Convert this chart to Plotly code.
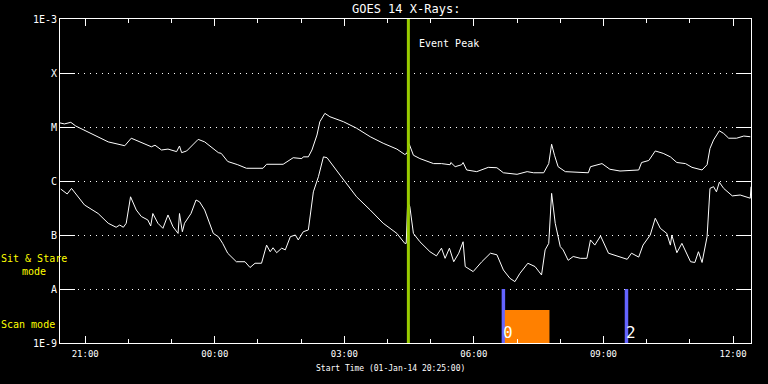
import plotly.graph_objects as go

# ---------------- data ----------------
long_times = ["20:25","20:31","20:40","20:47","21:32","21:55","22:04","22:32","22:37","22:46",
              "22:55","23:07","23:11","23:14","23:21","23:37","23:46","00:05","00:09","00:18",
              "00:32","00:44","01:07","01:12","01:35","01:49","02:01","02:03","02:10","02:15",
              "02:22","02:26","02:33","02:40","02:59","03:17","03:36","03:54","04:13","04:24",
              "04:27","04:29","04:30","04:36","04:45","05:04","05:15","05:27","05:28","05:34",
              "05:43","05:45","05:50","06:04","06:20","06:32","06:41","07:00","07:14","07:23",
              "07:37","07:44","07:48","07:52","07:57","08:07","08:28","08:39","08:42","08:58",
              "09:09","09:23","09:49","09:53","10:03","10:12","10:23","10:33","10:42","10:54",
              "11:03","11:17","11:24","11:28","11:33","11:41","11:47","11:54","12:05","12:15",
              "12:24"]
long_flux = [1.19e-5,1.14e-5,1.22e-5,1.04e-5,5.3e-6,4.5e-6,6.2e-6,4.3e-6,4.6e-6,3.75e-6,
             3.9e-6,3.5e-6,4.45e-6,3.35e-6,3.6e-6,5.9e-6,5.3e-6,3.35e-6,3.25e-6,2.3e-6,
             2.0e-6,1.72e-6,1.72e-6,2.04e-6,2.04e-6,2.7e-6,2.6e-6,2.8e-6,2.8e-6,3.75e-6,
             7.1e-6,1.25e-5,1.79e-5,1.55e-5,1.25e-5,9.5e-6,6.6e-6,5.0e-6,3.9e-6,3.1e-6,
             3.26e-6,4.9e-6,4.9e-6,3.0e-6,2.6e-6,2.1e-6,2.1e-6,2.0e-6,2.2e-6,1.84e-6,
             2.0e-6,2.2e-6,1.6e-6,1.49e-6,1.79e-6,1.76e-6,1.42e-6,1.33e-6,1.49e-6,1.42e-6,
             1.42e-6,2.1e-6,4.8e-6,3.0e-6,1.84e-6,1.49e-6,1.42e-6,1.42e-6,1.84e-6,2.1e-6,
             1.65e-6,1.53e-6,1.6e-6,2.2e-6,2.4e-6,3.6e-6,3.25e-6,2.8e-6,2.2e-6,2.1e-6,
             1.79e-6,1.6e-6,2.0e-6,4.0e-6,5.75e-6,8.5e-6,7.6e-6,6.2e-6,6.2e-6,6.8e-6,
             6.6e-6]

short_times = ["20:26","20:35","20:41","20:48","20:59","21:18","21:32","21:43","21:48","21:53",
               "21:57","22:03","22:11","22:18","22:27","22:31","22:34","22:41","22:48","22:55",
               "23:02","23:09","23:11","23:15","23:18","23:27","23:34","23:39","23:46","23:58",
               "00:05","00:11","00:18","00:30","00:42","00:49","00:56","01:05","01:12","01:17",
               "01:21","01:26","01:33","01:38","01:45","01:52","01:56","02:03","02:10","02:17",
               "02:24","02:31","02:36","02:54","03:17","03:36","03:54","04:13","04:20","04:24",
               "04:26","04:28","04:31","04:36","04:45","04:59","05:08","05:15","05:20","05:26",
               "05:32","05:39","05:45","05:48","05:59","06:11","06:23","06:32","06:41","06:50",
               "06:57","07:04","07:15","07:25","07:34","07:39","07:44","07:48","07:53","08:00",
               "08:04","08:11","08:18","08:28","08:37","08:42","08:48","08:56","09:07","09:21",
               "09:33","09:39","09:49","09:55","10:05","10:12","10:19","10:28","10:33","10:35",
               "10:42","10:49","11:01","11:07","11:12","11:17","11:24","11:28","11:33","11:37",
               "11:41","11:47","11:59","12:10","12:19","12:24","12:25"]
short_flux = [7.1e-7,5.75e-7,7.3e-7,5.5e-7,3.6e-7,2.5e-7,1.65e-7,1.39e-7,1.53e-7,1.39e-7,
              1.65e-7,5.1e-7,2.9e-7,2.2e-7,1.9e-7,1.47e-7,2.5e-7,1.65e-7,1.33e-7,2.35e-7,
              1.42e-7,1.07e-7,2.5e-7,1.15e-7,1.65e-7,2.5e-7,4.45e-7,4.1e-7,2.9e-7,1.07e-7,
              9.3e-8,7.0e-8,4.6e-8,3.2e-8,3.2e-8,2.5e-8,3.0e-8,3.0e-8,6.5e-8,4.9e-8,
              5.8e-8,4.7e-8,5.7e-8,5.3e-8,9.3e-8,1.0e-7,8.1e-8,1.15e-7,1.24e-7,6.3e-7,
              1.2e-6,2.8e-6,2.7e-6,1.29e-6,5.1e-7,2.9e-7,1.65e-7,1.07e-7,8.1e-8,7.0e-8,
              7.0e-8,4.1e-7,3.35e-7,1.07e-7,7.5e-8,4.9e-8,4.1e-8,5.7e-8,3.7e-8,5.7e-8,
              3.2e-8,4.6e-8,7.5e-8,2.6e-8,2.1e-8,3.2e-8,4.6e-8,4.3e-8,2.25e-8,1.58e-8,
              1.37e-8,1.95e-8,3.0e-8,2.6e-8,1.82e-8,5.3e-8,7.0e-8,5.9e-7,1.65e-7,6.1e-8,
              5.3e-8,3.4e-8,4.0e-8,3.7e-8,3.7e-8,8.1e-8,6.5e-8,9.6e-8,4.6e-8,4.0e-8,
              3.55e-8,4.6e-8,3.9e-8,6.5e-8,1.0e-7,2.04e-7,1.33e-7,1.07e-7,6.5e-8,1.0e-7,
              4.7e-8,7.0e-8,3.2e-8,3.1e-8,4.9e-8,3.1e-8,9.3e-8,7.3e-7,7.85e-7,6.3e-7,
              9.5e-7,7.3e-7,5.3e-7,5.5e-7,5.1e-7,4.8e-7,7.85e-7]

y_tickvals = [1e-3, 1e-4, 1e-5, 1e-6, 1e-7, 1e-8, 1e-9]
y_ticktext = ["1E-3", "X", "M", "C", "B", "A", "1E-9"]
x_tick_times = ["21:00", "00:00", "03:00", "06:00", "09:00", "12:00"]
x_range_times = ["20:25", "12:25"]

event_peak_time = "04:29"
scan_mark_times = ["06:41", "09:32"]
scan_mark_labels = ["0", "2"]
scan_block_times = ["06:43", "07:45"]
scan_block_top = 4.1e-9
mode_band = [1e-9, 1e-8]

title_text = "GOES 14 X-Rays:"
xaxis_text = "Start Time (01-Jan-14 20:25:00)"


def to_dt(hm):
    h, m = map(int, hm.split(":"))
    day = 1 if h >= 20 else 2
    return f"2014-01-0{day} {h:02d}:{m:02d}:00"


FONT = "DejaVu Sans Mono"
WHITE = "#ffffff"

fig = go.Figure()

b0, b1 = to_dt(scan_block_times[0]), to_dt(scan_block_times[1])
for t in scan_mark_times:
    fig.add_trace(go.Scatter(x=[to_dt(t), to_dt(t)], y=mode_band, mode="lines",
                             line=dict(color="#6464ff", width=3.5), hoverinfo="skip",
                             showlegend=False))
fig.add_trace(go.Scatter(x=[b0, b0, b1, b1, b0],
                         y=[mode_band[0], scan_block_top, scan_block_top, mode_band[0], mode_band[0]],
                         mode="lines", fill="toself", fillcolor="#ff8000",
                         line=dict(width=0, color="#ff8000"), hoverinfo="skip", showlegend=False))

fig.add_trace(go.Scatter(x=[to_dt(t) for t in long_times], y=long_flux, mode="lines",
                         line=dict(color=WHITE, width=1), showlegend=False))
fig.add_trace(go.Scatter(x=[to_dt(t) for t in short_times], y=short_flux, mode="lines",
                         line=dict(color=WHITE, width=1), showlegend=False))

ep = to_dt(event_peak_time)
fig.add_trace(go.Scatter(x=[ep, ep], y=[y_tickvals[-1], y_tickvals[0]], mode="lines",
                         line=dict(color="#99cc00", width=3), hoverinfo="skip", showlegend=False))

annotations = [
    dict(text=title_text, xref="paper", yref="paper", x=0.5, y=1, yshift=10,
         xanchor="center", yanchor="middle", showarrow=False,
         font=dict(family=FONT, size=12, color=WHITE)),
    dict(text=xaxis_text, xref="paper", yref="paper", x=0.5, y=0, yshift=-25, xshift=-15,
         xanchor="center", yanchor="middle", showarrow=False,
         font=dict(family=FONT, size=8, color=WHITE)),
    dict(text="Event Peak", xref="x", yref="paper", x=ep, y=1, xshift=9, yshift=-24,
         xanchor="left", yanchor="middle", showarrow=False,
         font=dict(family=FONT, size=10, color=WHITE)),
    dict(text="Sit & Stare<br>mode", xref="paper", yref="paper", x=0, y=0, xshift=-26,
         yshift=78, xanchor="center", yanchor="middle", showarrow=False, align="center",
         font=dict(family=FONT, size=10, color="#ffff00")),
    dict(text="Scan mode", xref="paper", yref="paper", x=0, y=0, xshift=-32, yshift=19,
         xanchor="center", yanchor="middle", showarrow=False,
         font=dict(family=FONT, size=10, color="#ffff00")),
]
for t, lab in zip(scan_mark_times, scan_mark_labels):
    annotations.append(dict(text=lab, xref="x", yref="paper", x=to_dt(t), y=0, xshift=-2,
                            yshift=11, xanchor="left", yanchor="middle", showarrow=False,
                            font=dict(family=FONT, size=16, color=WHITE)))

fig.update_layout(
    width=768, height=384,
    margin=dict(l=60, r=17, t=19, b=41),
    paper_bgcolor="black", plot_bgcolor="black",
    font=dict(family=FONT, size=10, color=WHITE),
    annotations=annotations,
    showlegend=False,
)
fig.update_xaxes(
    type="date", range=[to_dt(x_range_times[0]), to_dt(x_range_times[1])],
    tickvals=[to_dt(t) for t in x_tick_times], ticktext=x_tick_times,
    ticks="inside", ticklen=7, tickwidth=1, tickcolor=WHITE,
    showline=True, linecolor=WHITE, linewidth=1, mirror="ticks",
    showgrid=False, zeroline=False,
    minor=dict(ticks="inside", ticklen=4, tickcolor=WHITE, dtick=3600000,
               tick0=to_dt(x_tick_times[0]), showgrid=False),
    tickfont=dict(family=FONT, size=9, color=WHITE),
    ticklabelstandoff=2,
)
fig.update_yaxes(
    type="log", range=[-9, -3],
    tickvals=y_tickvals, ticktext=y_ticktext,
    ticks="inside", ticklen=15, tickwidth=1, tickcolor=WHITE,
    showline=True, linecolor=WHITE, linewidth=1, mirror="ticks",
    showgrid=True, gridcolor=WHITE, gridwidth=1, griddash="1px,5px",
    zeroline=False,
    tickfont=dict(family=FONT, size=10, color=WHITE),
)

fig.write_html("out.html", config={"displayModeBar": False},
               post_script="document.body.style.margin='0';document.body.style.background='black';")
